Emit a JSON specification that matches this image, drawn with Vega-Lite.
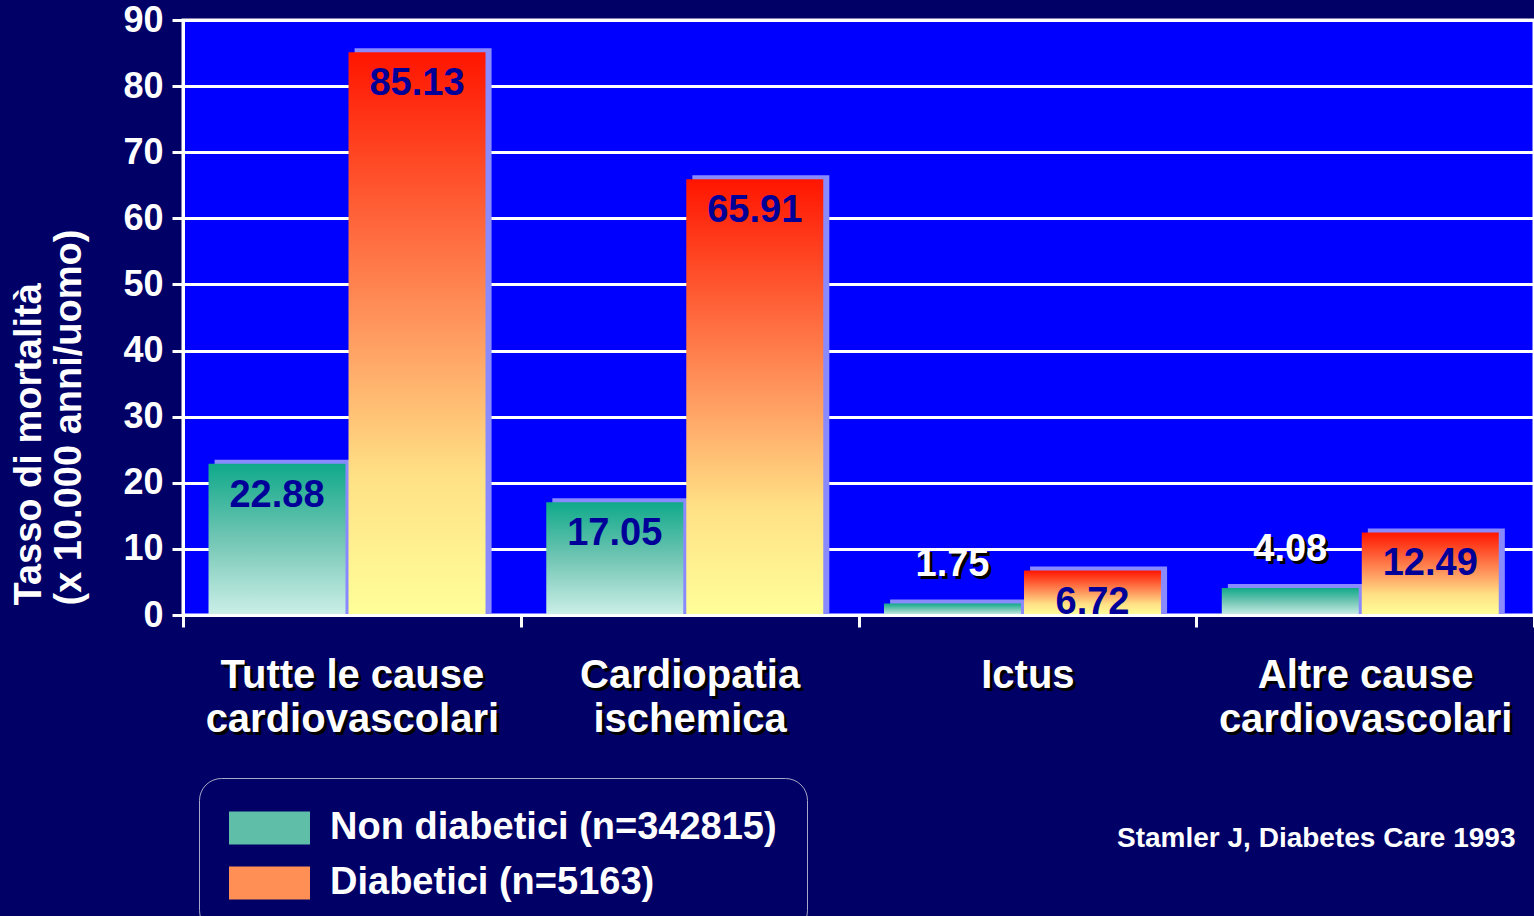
{
  "$schema": "https://vega.github.io/schema/vega-lite/v6.json",
  "width": 1351,
  "height": 595,
  "autosize": {"type": "none"},
  "padding": {"left": 183, "top": 20, "right": 0, "bottom": 301},
  "background": "#000066",
  "config": {
    "view": {"fill": "#0000FF", "stroke": "white", "strokeWidth": 3},
    "font": "Liberation Sans"
  },
  "data": {
    "values": [
      {"cause": "Tutte le cause|cardiovascolari", "group": "Non diabetici (n=342815)", "value": 22.88},
      {"cause": "Tutte le cause|cardiovascolari", "group": "Diabetici (n=5163)", "value": 85.13},
      {"cause": "Cardiopatia|ischemica", "group": "Non diabetici (n=342815)", "value": 17.05},
      {"cause": "Cardiopatia|ischemica", "group": "Diabetici (n=5163)", "value": 65.91},
      {"cause": "Ictus", "group": "Non diabetici (n=342815)", "value": 1.75},
      {"cause": "Ictus", "group": "Diabetici (n=5163)", "value": 6.72},
      {"cause": "Altre cause|cardiovascolari", "group": "Non diabetici (n=342815)", "value": 4.08},
      {"cause": "Altre cause|cardiovascolari", "group": "Diabetici (n=5163)", "value": 12.49}
    ]
  },
  "encoding": {
    "y": {
      "field": "value",
      "type": "quantitative",
      "stack": null,
      "scale": {"domain": [0, 90], "nice": false},
      "axis": {
        "values": [0, 10, 20, 30, 40, 50, 60, 70, 80, 90],
        "title": ["Tasso di mortalità", "(x 10.000 anni/uomo)"],
        "titleColor": "white",
        "titleFont": "Liberation Sans",
        "titleFontWeight": "bold",
        "titleFontSize": 38,
        "titleLineHeight": 40,
        "titleAngle": -90,
        "titleBaseline": "top",
        "titleAlign": "left",
        "titleX": -173,
        "titleY": 585,
        "domainColor": "white",
        "domainWidth": 3,
        "tickColor": "white",
        "tickWidth": 3,
        "tickSize": 11,
        "grid": true,
        "gridColor": "white",
        "gridWidth": 3,
        "gridOpacity": 1,
        "labelColor": "white",
        "labelFont": "Liberation Sans",
        "labelFontWeight": "bold",
        "labelFontSize": 36,
        "labelPadding": 9
      }
    }
  },
  "layer": [
    {
      "mark": {"type": "bar", "color": "#8A8AFF", "yOffset": -4},
      "encoding": {
        "x": {"field": "cause", "type": "nominal", "sort": null, "scale": {"paddingInner": 0, "paddingOuter": 0}, "axis": null},
        "xOffset": {"field": "group", "type": "nominal", "scale": {"type": "band", "domain": ["Non diabetici (n=342815)", "Diabetici (n=5163)"], "paddingInner": 0.0215, "paddingOuter": 0.217, "align": 0.52}}
      }
    },
    {
      "mark": {"type": "bar", "opacity": 0},
      "encoding": {
        "x": {
          "field": "cause", "type": "nominal", "sort": null,
          "axis": {
            "orient": "bottom",
            "title": null,
            "tickBand": "extent",
            "domain": false,
            "ticks": true,
            "tickColor": "transparent",
            "tickSize": 12,
            "grid": false,
            "labelColor": "black",
            "labelFont": "Liberation Sans",
            "labelFontWeight": "bold",
            "labelFontSize": 40,
            "labelBaseline": "middle",
            "labelPadding": 51,
            "labelOffset": 3,
            "labelLineHeight": 44,
            "labelAngle": 0,
            "labelLimit": 1000,
            "labelOverlap": false,
            "labelExpr": "split(datum.label, '|')",
            "zindex": 0
          }
        },
        "xOffset": {"field": "group", "type": "nominal", "scale": {"type": "band", "domain": ["Non diabetici (n=342815)", "Diabetici (n=5163)"], "paddingInner": 0.0215, "paddingOuter": 0.217, "align": 0.42}},
        "color": {
          "field": "group",
          "type": "nominal",
          "scale": {"domain": ["Non diabetici (n=342815)", "Diabetici (n=5163)"], "range": ["#5EBEA8", "#FF8F55"]},
          "legend": {
            "orient": "none",
            "legendX": 16,
            "legendY": 758,
            "title": null,
            "padding": 30,
            "fillColor": "#000066",
            "strokeColor": "#A8A8C8",
            "cornerRadius": 22,
            "symbolType": "M-1,-0.825H3.05V0.825H-1Z",
            "symbolSize": 1600,
            "symbolStrokeWidth": 0,
            "symbolOpacity": 1,
            "labelColor": "white",
            "labelFont": "Liberation Sans",
            "labelFontWeight": "bold",
            "labelFontSize": 38,
            "labelOffset": 61,
            "labelLimit": 2000,
            "rowPadding": 16,
            "labelExpr": "datum.label == 'Non diabetici (n=342815)' ? datum.label + '\u00a0\u00a0\u00a0\u00a0\u00a0\u00a0\u00a0\u00a0\u00a0\u00a0\u00a0\u00a0\u00a0\u00a0\u00a0\u00a0' : datum.label"
          }
        }
      }
    },
    {
      "transform": [{"filter": "datum.group === 'Non diabetici (n=342815)'"}],
      "mark": {"type": "bar", "color": {"gradient": "linear", "x1": 0, "y1": 0, "x2": 0, "y2": 1, "stops": [{"offset": 0, "color": "#0FA98A"}, {"offset": 0.5, "color": "#72C6B4"}, {"offset": 1, "color": "#CCEFE8"}]}},
      "encoding": {
        "x": {
          "field": "cause", "type": "nominal", "sort": null,
          "axis": {
            "orient": "bottom",
            "title": "Stamler J, Diabetes Care 1993",
            "titleColor": "white",
            "titleFont": "Liberation Sans",
            "titleFontWeight": "bold",
            "titleFontSize": 28,
            "titleAlign": "right",
            "titleBaseline": "middle",
            "titleX": 1332,
            "titleY": 223,
            "tickBand": "extent",
            "domain": true,
            "domainColor": "white",
            "domainWidth": 3,
            "ticks": true,
            "tickColor": "white",
            "tickWidth": 3,
            "tickSize": 12,
            "grid": false,
            "labelColor": "white",
            "labelFont": "Liberation Sans",
            "labelFontWeight": "bold",
            "labelFontSize": 40,
            "labelBaseline": "middle",
            "labelPadding": 48,
            "labelLineHeight": 44,
            "labelAngle": 0,
            "labelLimit": 1000,
            "labelOverlap": false,
            "labelExpr": "split(datum.label, '|')",
            "zindex": 1
          }
        },
        "xOffset": {"field": "group", "type": "nominal", "scale": {"type": "band", "domain": ["Non diabetici (n=342815)", "Diabetici (n=5163)"], "paddingInner": 0.0215, "paddingOuter": 0.217, "align": 0.42}}
      }
    },
    {
      "transform": [{"filter": "datum.group === 'Diabetici (n=5163)'"}],
      "mark": {"type": "bar", "color": {"gradient": "linear", "x1": 0, "y1": 0, "x2": 0, "y2": 1, "stops": [{"offset": 0, "color": "#FF1500"}, {"offset": 0.5, "color": "#FF9A60"}, {"offset": 0.75, "color": "#FFE085"}, {"offset": 1, "color": "#FFFF99"}]}},
      "encoding": {
        "x": {"field": "cause", "type": "nominal", "sort": null, "axis": null},
        "xOffset": {"field": "group", "type": "nominal", "scale": {"type": "band", "domain": ["Non diabetici (n=342815)", "Diabetici (n=5163)"], "paddingInner": 0.0215, "paddingOuter": 0.217, "align": 0.42}}
      }
    },
    {
      "transform": [{"filter": "datum.value >= 5"}],
      "mark": {"type": "text", "color": "#000099", "font": "Liberation Sans", "fontWeight": "bold", "fontSize": 38, "baseline": "middle", "align": "center", "dy": 32},
      "encoding": {
        "x": {"field": "cause", "type": "nominal", "sort": null, "axis": null},
        "xOffset": {"field": "group", "type": "nominal", "scale": {"type": "band", "domain": ["Non diabetici (n=342815)", "Diabetici (n=5163)"], "paddingInner": 0.0215, "paddingOuter": 0.217, "align": 0.42}},
        "text": {"field": "value", "type": "quantitative", "format": ".2f"}
      }
    },
    {
      "transform": [{"filter": "datum.value < 5"}],
      "mark": {"type": "text", "color": "black", "font": "Liberation Sans", "fontWeight": "bold", "fontSize": 38, "baseline": "middle", "align": "center", "dy": -35, "dx": 3},
      "encoding": {
        "x": {"field": "cause", "type": "nominal", "sort": null, "axis": null},
        "xOffset": {"field": "group", "type": "nominal", "scale": {"type": "band", "domain": ["Non diabetici (n=342815)", "Diabetici (n=5163)"], "paddingInner": 0.0215, "paddingOuter": 0.217, "align": 0.42}},
        "text": {"field": "value", "type": "quantitative", "format": ".2f"}
      }
    },
    {
      "transform": [{"filter": "datum.value < 5"}],
      "mark": {"type": "text", "color": "white", "font": "Liberation Sans", "fontWeight": "bold", "fontSize": 38, "baseline": "middle", "align": "center", "dy": -38},
      "encoding": {
        "x": {"field": "cause", "type": "nominal", "sort": null, "axis": null},
        "xOffset": {"field": "group", "type": "nominal", "scale": {"type": "band", "domain": ["Non diabetici (n=342815)", "Diabetici (n=5163)"], "paddingInner": 0.0215, "paddingOuter": 0.217, "align": 0.42}},
        "text": {"field": "value", "type": "quantitative", "format": ".2f"}
      }
    }
  ],
  "resolve": {"scale": {"xOffset": "independent"}, "axis": {"x": "independent"}}
}
